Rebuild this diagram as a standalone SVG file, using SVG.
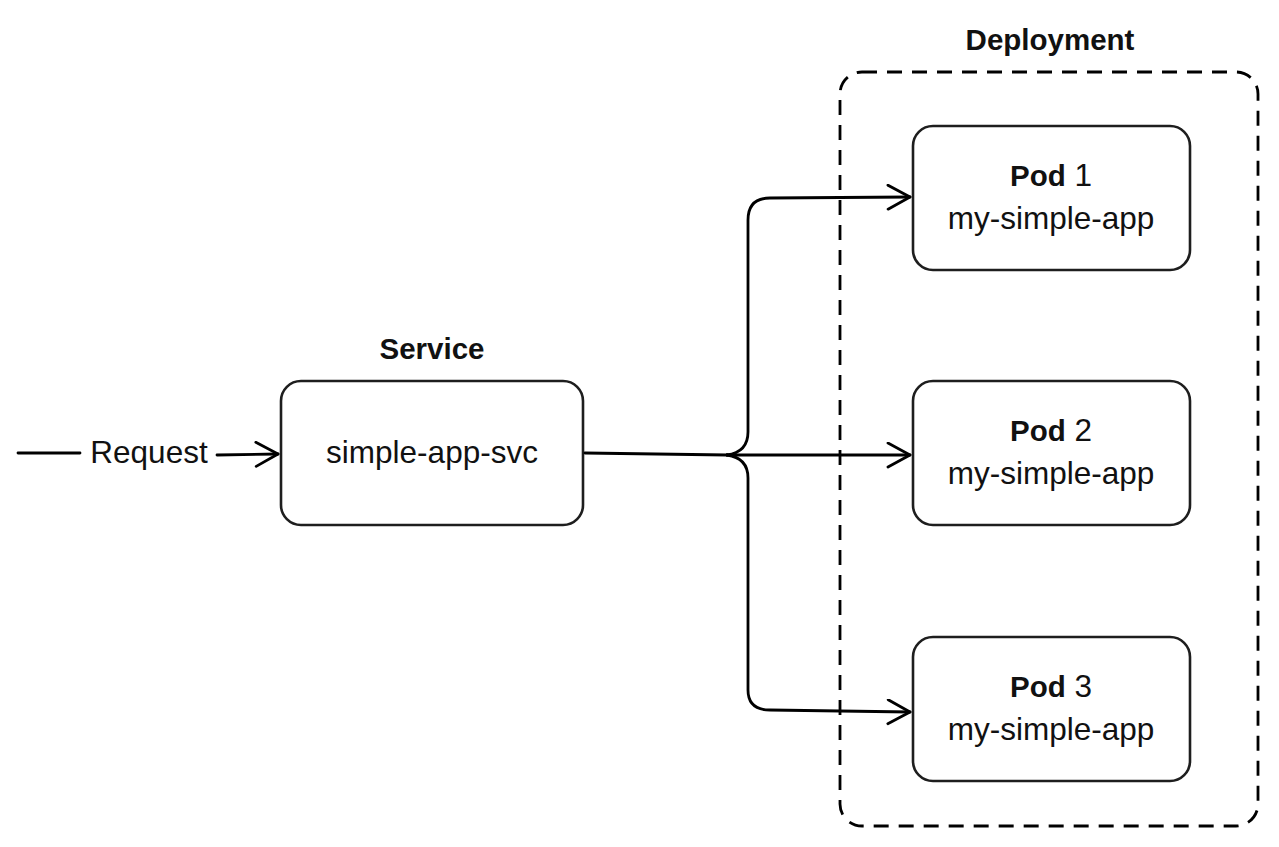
<svg xmlns="http://www.w3.org/2000/svg" width="1279" height="847" viewBox="0 0 1279 847">
<style>
.box{fill:#fff;stroke:#1e1e1e;stroke-width:2.6}
.dash{fill:none;stroke:#000;stroke-width:2.8;stroke-dasharray:15 10}
.ln{fill:none;stroke:#000;stroke-width:2.8;stroke-linecap:round;stroke-linejoin:round}
.t{font-family:"Liberation Sans",Arial,sans-serif;font-size:31.5px;fill:#111;text-anchor:middle}
.b{font-weight:bold;font-size:29.5px}
</style>
<defs>
<marker id="arr" markerUnits="userSpaceOnUse" markerWidth="30" markerHeight="30" refX="24" refY="13" orient="auto">
<path d="M2,1 L24,13 L2,25" fill="none" stroke="#000" stroke-width="2.8" stroke-linecap="round" stroke-linejoin="round"/>
</marker>
</defs>
<g id="deployment">
<rect class="dash" x="840" y="72" width="418" height="754" rx="22"/>
<text class="t b" x="1050" y="50">Deployment</text>
</g>
<g id="service">
<text class="t b" x="432" y="359">Service</text>
<rect class="box" x="281" y="381" width="302" height="144" rx="20"/>
<text class="t" x="432" y="463">simple-app-svc</text>
</g>
<g id="pod1">
<rect class="box" x="913" y="126" width="277" height="144" rx="20"/>
<text class="t" x="1051" y="186"><tspan class="b">Pod</tspan> 1</text>
<text class="t" x="1051" y="229">my-simple-app</text>
</g>
<g id="pod2">
<rect class="box" x="913" y="381" width="277" height="144" rx="20"/>
<text class="t" x="1051" y="441"><tspan class="b">Pod</tspan> 2</text>
<text class="t" x="1051" y="484">my-simple-app</text>
</g>
<g id="pod3">
<rect class="box" x="913" y="637" width="277" height="144" rx="20"/>
<text class="t" x="1051" y="697"><tspan class="b">Pod</tspan> 3</text>
<text class="t" x="1051" y="740">my-simple-app</text>
</g>
<g id="connectors">
<line class="ln" x1="18" y1="453" x2="80" y2="453"/>
<text class="t" x="149" y="463">Request</text>
<path class="ln" d="M217,455 L278,454" marker-end="url(#arr)"/>
<path class="ln" d="M585,453 L727,455"/>
<path class="ln" d="M727,455 Q748,452 748,432 L748,220 Q748,198 770,198 L910,197" marker-end="url(#arr)"/>
<path class="ln" d="M727,455 L910,455" marker-end="url(#arr)"/>
<path class="ln" d="M727,455 Q748,458 748,478 L748,690 Q748,710 770,710 L910,712" marker-end="url(#arr)"/>
</g>
</svg>
